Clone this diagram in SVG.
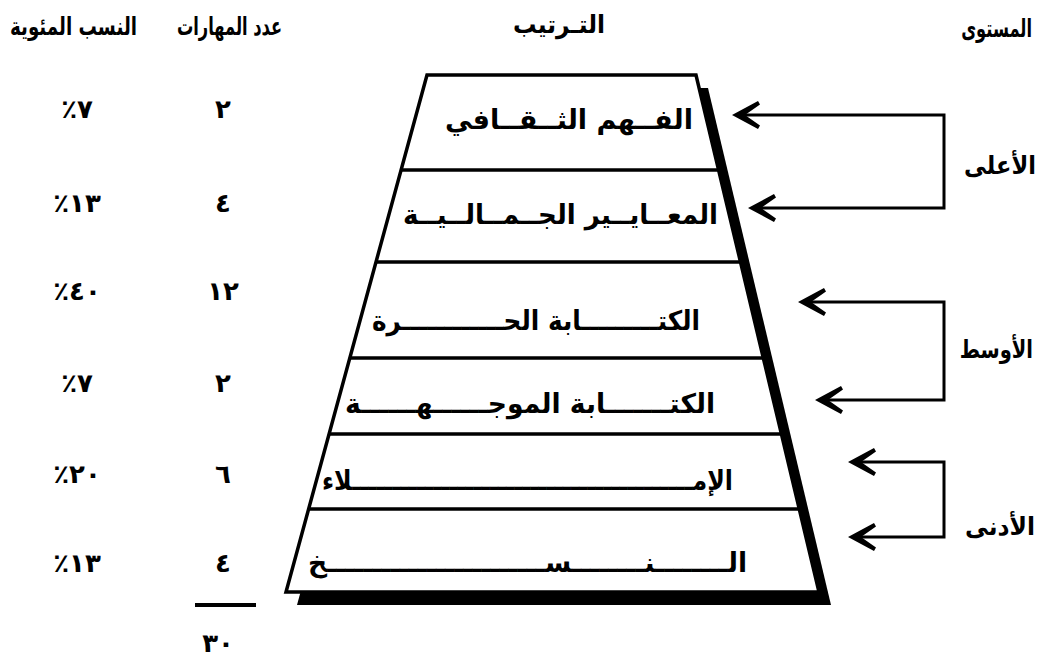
<svg xmlns="http://www.w3.org/2000/svg" width="1044" height="661" viewBox="0 0 1044 661">
<style>
  .t{font-family:"DejaVu Sans",sans-serif;font-weight:bold;fill:#000}
  .h{font-size:25px}
  .n{font-size:26px}
  .lbl{font-size:27px}
  .lv{font-size:25px}
  .pct{direction:ltr;unicode-bidi:bidi-override}
  .div{stroke:#000;stroke-width:3.5;fill:none}
  .conn{stroke:#000;stroke-width:3;fill:none;marker-start:url(#ah);marker-end:url(#ah)}
</style>
<defs>
  <marker id="ah" viewBox="0 0 30 28" markerUnits="userSpaceOnUse" markerWidth="30" markerHeight="28" refX="22" refY="14" orient="auto-start-reverse">
    <polygon points="28,14 2,0 0,3.5 15,14 0,24.5 2,28" fill="#000"/>
  </marker>
</defs>
<rect width="1044" height="661" fill="#fff"/>

<g id="headers">
  <text class="t h" x="73.5" y="35" text-anchor="middle" textLength="127" lengthAdjust="spacingAndGlyphs">النسب المئوية</text>
  <text class="t h" x="229.5" y="35" text-anchor="middle" textLength="105" lengthAdjust="spacingAndGlyphs">عدد المهارات</text>
  <text class="t h" x="559" y="33" text-anchor="middle" textLength="92" lengthAdjust="spacingAndGlyphs">التـرتيب</text>
  <text class="t h" transform="translate(1032,37) scale(0.65,1)" x="0" y="0" text-anchor="end">المستوى</text>
</g>

<g id="pyramid">
  <polygon points="438,88 708,88 831,605 297,605" fill="#000"/>
  <polygon points="427,75 696,75 819,592 286,592" fill="#fff" stroke="#000" stroke-width="3.5" stroke-linejoin="miter"/>
  <line class="div" x1="401" y1="170" x2="719" y2="170"/>
  <line class="div" x1="376" y1="262" x2="740" y2="262"/>
  <line class="div" x1="350" y1="358" x2="763" y2="358"/>
  <line class="div" x1="329" y1="434" x2="781" y2="434"/>
  <line class="div" x1="309" y1="509" x2="799" y2="509"/>
</g>

<g id="row1">
  <text class="t lbl" x="569" y="129" text-anchor="middle" textLength="248" lengthAdjust="spacingAndGlyphs">الفــهم الثــقــافي</text>
  <text class="t n" x="223" y="118" text-anchor="middle">٢</text>
  <text class="t n pct" x="77" y="118" text-anchor="middle">٪٧</text>
</g>
<g id="row2">
  <text class="t lbl" x="560.5" y="224" text-anchor="middle" textLength="315" lengthAdjust="spacingAndGlyphs">المعــايــير الجــمــالــيــة</text>
  <text class="t n" x="223" y="212" text-anchor="middle">٤</text>
  <text class="t n pct" x="77" y="212" text-anchor="middle">٪١٣</text>
</g>
<g id="row3">
  <text class="t lbl" x="536" y="330" text-anchor="middle" textLength="328" lengthAdjust="spacingAndGlyphs">الكتـــــــــابة الحــــــــــــرة</text>
  <text class="t n" x="223" y="300" text-anchor="middle">١٢</text>
  <text class="t n pct" x="77" y="300" text-anchor="middle">٪٤٠</text>
</g>
<g id="row4">
  <text class="t lbl" x="530" y="413" text-anchor="middle" textLength="370" lengthAdjust="spacingAndGlyphs">الكتـــــــابة الموجــــــهــــــة</text>
  <text class="t n" x="223" y="392" text-anchor="middle">٢</text>
  <text class="t n pct" x="77" y="392" text-anchor="middle">٪٧</text>
</g>
<g id="row5">
  <text class="t lbl" x="527.5" y="490" text-anchor="middle" textLength="411" lengthAdjust="spacingAndGlyphs">الإمــــــــــــــــــــــــــــــــــــــــــلاء</text>
  <text class="t n" x="223" y="483" text-anchor="middle">٦</text>
  <text class="t n pct" x="77" y="483" text-anchor="middle">٪٢٠</text>
</g>
<g id="row6">
  <text class="t lbl" x="527.5" y="572" text-anchor="middle" textLength="439" lengthAdjust="spacingAndGlyphs">الــــــــنــــــــســــــــــــــــــــــــخ</text>
  <text class="t n" x="223" y="572" text-anchor="middle">٤</text>
  <text class="t n pct" x="77" y="572" text-anchor="middle">٪١٣</text>
</g>

<g id="total">
  <line x1="195" y1="605" x2="256" y2="605" stroke="#000" stroke-width="4"/>
  <text class="t n" x="218" y="652" text-anchor="middle">٣٠</text>
</g>

<g id="levels">
  <text class="t lv" x="1036" y="174" text-anchor="end" textLength="72" lengthAdjust="spacingAndGlyphs">الأعلى</text>
  <text class="t lv" transform="translate(1033,358) scale(0.78,1)" x="0" y="0" text-anchor="end">الأوسط</text>
  <text class="t lv" x="1035" y="535" text-anchor="end" textLength="70" lengthAdjust="spacingAndGlyphs">الأدنى</text>
</g>

<g id="connectors">
  <path class="conn" d="M738,115 H944 V208 H754"/>
  <path class="conn" d="M804,302 H944 V400 H821"/>
  <path class="conn" d="M854,462 H944 V537 H854"/>
</g>
</svg>
